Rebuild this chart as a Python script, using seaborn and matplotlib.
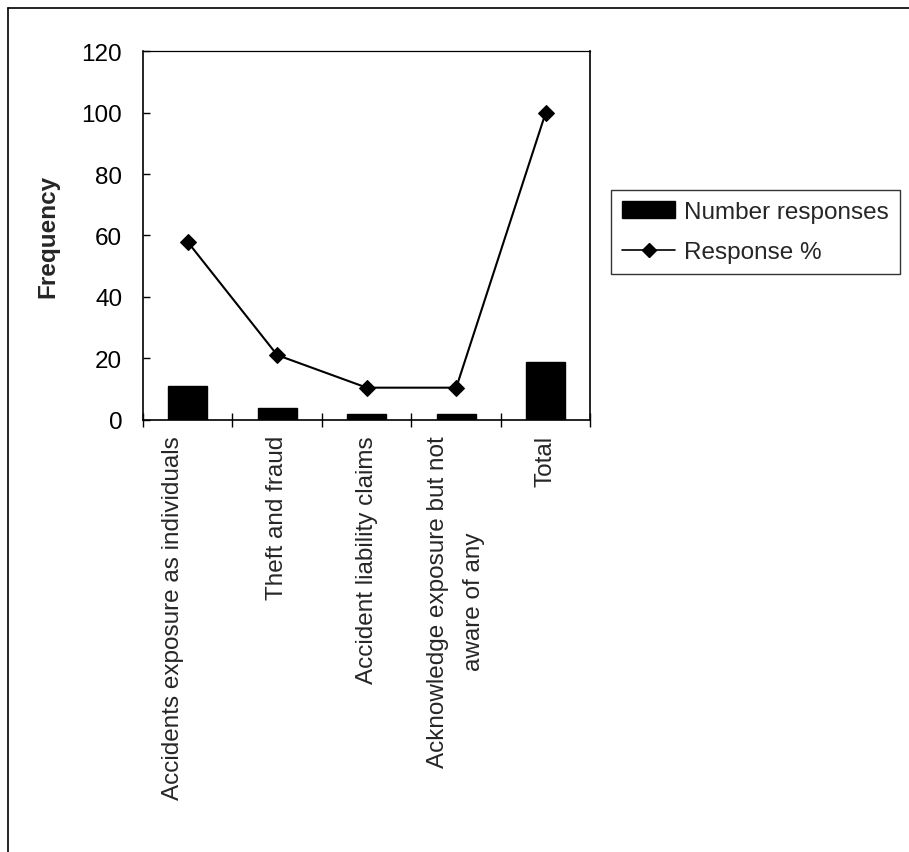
import numpy as np
import pandas as pd
import matplotlib
matplotlib.use("Agg")
import matplotlib.pyplot as plt
from matplotlib.lines import Line2D
from matplotlib.patches import Patch
from matplotlib.transforms import ScaledTranslation
import seaborn as sns

categories = [
    "Accidents exposure as individuals",
    "Theft and fraud",
    "Accident liability claims",
    "Acknowledge exposure but not\naware of any",
    "Total",
]
number_responses = [11, 4, 2, 2, 19]
response_pct = [57.9, 21.1, 10.5, 10.5, 100]
y_ticks = [0, 20, 40, 60, 80, 100, 120]

sns.set_theme(style="white")
plt.rcParams["font.family"] = ["Liberation Sans", "DejaVu Sans"]

df = pd.DataFrame({
    "pos": np.arange(len(categories)),
    "category": categories,
    "count": number_responses,
    "pct": response_pct,
})

fig = plt.figure(figsize=(9.09, 8.53), dpi=100)
ax = fig.add_axes([0.1573, 0.5065, 0.6496 - 0.1573, 0.939 - 0.5065])

sns.barplot(data=df, x="pos", y="count", color="black", width=0.44,
            saturation=1, ax=ax, native_scale=True, edgecolor="black")
sns.lineplot(data=df, x="pos", y="pct", color="black", linewidth=1.5,
             marker="D", markersize=8, markeredgecolor="black", ax=ax)

ax.set_xlim(-0.5, len(categories) - 0.5)
ax.set_ylim(0, 120)
ax.set_yticks(y_ticks)
ax.set_yticklabels([str(v) for v in y_ticks], fontsize=17.5)
ax.tick_params(axis="y", direction="in", length=5, width=1, pad=15,
               colors="black", left=True)

ax.set_xticks(df["pos"])
ax.set_xticklabels(categories, rotation=90, fontsize=17.5,
                   ha="center", va="top", multialignment="center",
                   linespacing=1.8)
ax.tick_params(axis="x", which="major", length=0, pad=11)
ax.set_xticks(np.arange(-0.5, len(categories)), minor=True)
ax.tick_params(axis="x", which="minor", direction="inout", length=10,
               width=1, bottom=True, color="black")

# the first category label sits a little left of its slot
first = ax.get_xticklabels()[0]
first.set_transform(first.get_transform()
                    + ScaledTranslation(-0.15, 0, fig.dpi_scale_trans))

for side in ["left", "bottom", "right", "top"]:
    ax.spines[side].set_visible(True)
    ax.spines[side].set_color("black")
    ax.spines[side].set_linewidth(1.2)
ax.spines["top"].set_linewidth(0.9)

ax.set_xlabel("")
ax.set_ylabel("Frequency", fontsize=17.5, fontweight="bold", labelpad=16)

handles = [
    Patch(facecolor="black", edgecolor="black", label="Number responses"),
    Line2D([0], [0], color="black", linewidth=1.2, marker="D", markersize=7,
           label="Response %"),
]
leg = fig.legend(handles=handles, loc="upper left",
                 bbox_to_anchor=(611 / 909, 1 - 191 / 853),
                 fontsize=17.5, frameon=True, fancybox=False,
                 borderaxespad=0, borderpad=0.45, handlelength=2.2,
                 handletextpad=0.37, labelspacing=0.75, numpoints=1)
leg.get_frame().set_edgecolor("black")
leg.get_frame().set_linewidth(1.0)

# outer chart frame (left and top edges)
fig.add_artist(Line2D([8 / 909, 8 / 909], [0, 1 - 9 / 853],
                      color="black", linewidth=1.2))
fig.add_artist(Line2D([8 / 909, 1], [1 - 9 / 853, 1 - 9 / 853],
                      color="black", linewidth=1.2))

fig.savefig("out.png", dpi=100, facecolor="white")
